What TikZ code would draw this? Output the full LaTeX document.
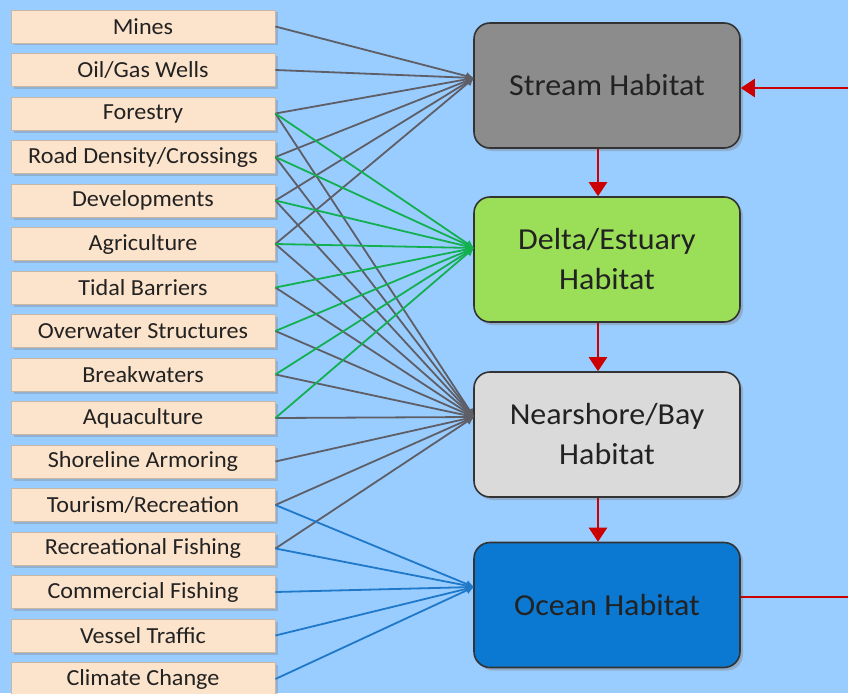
\documentclass[tikz,border=0pt]{standalone}
\usepackage{fontspec}
\setmainfont[FakeStretch=1.05]{Carlito}
\usetikzlibrary{arrows.meta,shadows}
\definecolor{bg}{HTML}{99CCFF}
\definecolor{peach}{HTML}{FCE3CB}
\definecolor{peachline}{HTML}{C8B6A6}
\definecolor{gline}{HTML}{5E5E66}
\definecolor{grline}{HTML}{12B050}
\definecolor{bline}{HTML}{1F78C8}
\definecolor{redc}{HTML}{CC0000}
\definecolor{streamc}{HTML}{8C8C8C}
\definecolor{deltac}{HTML}{9BDF58}
\definecolor{nearc}{HTML}{DADADA}
\definecolor{oceanc}{HTML}{0B78D2}
\definecolor{txt}{HTML}{222222}
\tikzset{
  src/.style={rectangle, draw=peachline, line width=0.8pt, fill=peach,
    minimum width=264pt, minimum height=33pt, inner sep=0pt, text=txt,
    font=\fontsize{23}{26}\selectfont,
    drop shadow={opacity=0.35, shadow xshift=2.5pt, shadow yshift=-2.5pt}},
  hab/.style={rectangle, rounded corners=16pt, draw=black!80, line width=1.6pt,
    minimum width=266pt, minimum height=125pt, inner sep=0pt, text=txt,
    align=center, font=\fontsize{30.5}{40}\selectfont,
    drop shadow={opacity=0.4, shadow xshift=3pt, shadow yshift=-3pt}},
  conn/.style={line width=1.8pt, -{Latex[length=8pt,width=8pt]}},
  gconn/.style={conn, draw=gline},
  grconn/.style={conn, draw=grline},
  bconn/.style={conn, draw=bline},
  redarrow/.style={draw=redc, line width=2.6pt, -{Triangle[length=14pt,width=18pt]}},
  redline/.style={draw=redc, line width=2.6pt}
}
\begin{document}
\begin{tikzpicture}[x=1pt,y=-1pt]
\useasboundingbox (0,0) rectangle (848,693);
\fill[bg] (0,0) rectangle (848,693);

% source boxes
\node[src] (mines)   at (143,26.5)  {Mines};
\node[src] (oil)     at (143,70)    {Oil/Gas Wells};
\node[src] (forest)  at (143,113.5) {Forestry};
\node[src] (road)    at (143,157)   {Road Density/Crossings};
\node[src] (dev)     at (143,200.5) {Developments};
\node[src] (agri)    at (143,244)   {Agriculture};
\node[src] (tidal)   at (143,287.5) {Tidal Barriers};
\node[src] (over)    at (143,331)   {Overwater Structures};
\node[src] (break)   at (143,374.5) {Breakwaters};
\node[src] (aqua)    at (143,418)   {Aquaculture};
\node[src] (shore)   at (143,461.5) {Shoreline Armoring};
\node[src] (tour)    at (143,505)   {Tourism/Recreation};
\node[src] (recf)    at (143,548.5) {Recreational Fishing};
\node[src] (comf)    at (143,592)   {Commercial Fishing};
\node[src] (vessel)  at (143,635.5) {Vessel Traffic};
\node[src] (climate) at (143,679)   {Climate Change};

% habitat boxes
\node[hab, fill=streamc] (stream) at (607,85.5)  {Stream Habitat};
\node[hab, fill=deltac]  (delta)  at (607,259.5) {Delta/Estuary\\Habitat};
\node[hab, fill=nearc]   (near)   at (607,434.5) {Nearshore/Bay\\Habitat};
\node[hab, fill=oceanc]  (ocean)  at (607,605)   {Ocean Habitat};

% entry points
\coordinate (sIn) at (474,78);
\coordinate (dIn) at (474,248);
\coordinate (nIn) at (474,417);
\coordinate (oIn) at (474,587);
\coordinate (rightIn) at (848,88);
\coordinate (rightOut) at (848,597);

% gray to nearshore
\foreach \s in {forest,road,dev,agri,tidal,over,break,aqua,shore,tour,recf}
  \draw[gconn] (\s.east) -- (nIn);
% gray to stream
\foreach \s in {mines,oil,forest,road,dev,agri}
  \draw[gconn] (\s.east) -- (sIn);
% green to delta
\foreach \s in {forest,road,dev,agri,tidal,over,break,aqua}
  \draw[grconn] (\s.east) -- (dIn);
% blue to ocean
\foreach \s in {tour,recf,comf,vessel,climate}
  \draw[bconn] (\s.east) -- (oIn);

% red arrows
\draw[redarrow] ([xshift=-9pt]stream.south) -- ([xshift=-9pt]delta.north);
\draw[redarrow] ([xshift=-9pt]delta.south) -- ([xshift=-9pt]near.north);
\draw[redarrow] ([xshift=-9pt]near.south) -- ([xshift=-9pt]ocean.north);
\draw[redarrow] (rightIn) -- (stream.east |- rightIn);
\draw[redline] (ocean.east |- rightOut) -- (rightOut);
\end{tikzpicture}
\end{document}
